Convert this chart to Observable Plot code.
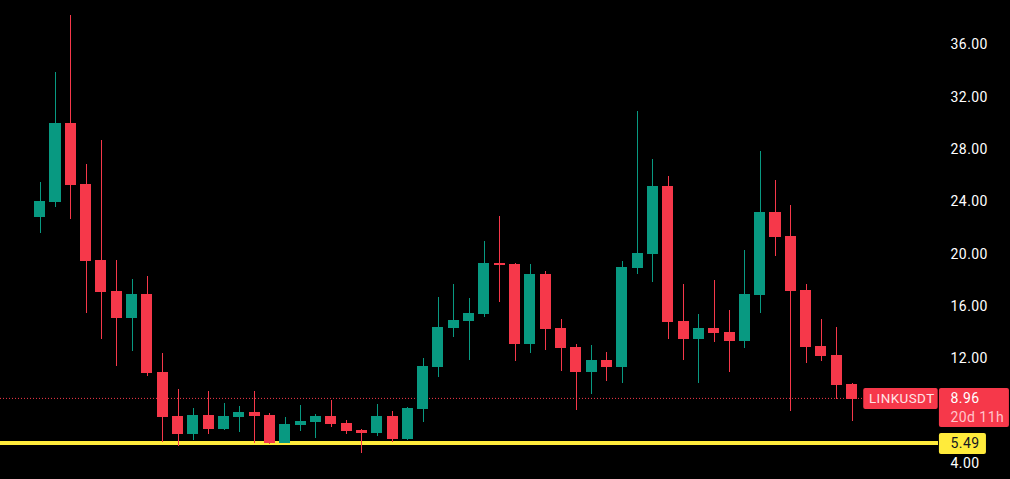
<!DOCTYPE html>
<html>
<head>
<meta charset="utf-8">
<script src="https://cdn.jsdelivr.net/npm/d3@7"></script>
<script src="https://cdn.jsdelivr.net/npm/@observablehq/plot@0.6"></script>
<style>
html,body{margin:0;padding:0;background:#000;overflow:hidden}
svg{display:block}
svg text{letter-spacing:0.45px}
</style>
</head>
<body>
<div id="chart"></div>
<script>
const high = [25.44,33.86,38.22,26.82,28.65,19.47,18.02,18.25,12.36,9.60,8.15,9.45,8.53,8.30,9.45,7.77,7.46,8.38,7.69,8.76,7.23,6.54,8.46,7.92,8.23,11.97,16.64,17.64,16.57,20.93,22.84,19.24,19.17,18.63,14.96,13.05,12.97,12.43,19.40,30.87,27.20,25.90,17.64,15.34,17.94,15.65,20.24,27.81,25.59,23.68,17.64,14.96,14.35,10.06];
const bodyTop = [23.99,29.96,29.96,25.29,19.47,17.10,16.87,16.87,10.90,7.54,7.61,7.61,7.54,7.84,7.84,7.61,6.92,7.15,7.54,7.54,7.00,6.47,7.54,7.54,8.15,11.36,14.35,14.88,15.42,19.24,19.24,19.17,18.40,18.40,14.27,12.82,11.82,11.82,18.94,20.01,25.14,25.14,14.81,14.27,14.27,13.97,16.87,23.15,23.15,21.31,17.18,12.89,12.21,9.98];
const bodyBottom = [22.76,23.91,25.21,19.40,17.02,15.03,15.03,10.83,7.46,6.16,6.16,6.54,6.54,7.46,7.54,5.47,5.47,6.85,7.08,6.92,6.39,6.24,6.24,5.78,5.78,8.07,11.29,14.27,14.81,15.34,19.09,13.05,13.05,14.19,12.74,10.90,10.90,11.29,11.29,18.86,19.93,14.73,13.43,13.43,13.89,13.28,13.28,16.80,21.23,17.10,12.82,12.13,9.91,8.84];
const low = [21.54,23.53,22.61,15.42,13.43,11.36,12.51,10.60,5.55,5.24,5.70,6.16,6.47,6.31,5.47,5.40,5.47,6.39,5.85,6.70,6.16,4.71,6.01,5.55,5.70,7.08,10.52,13.58,11.82,15.11,16.26,11.75,12.36,12.59,10.98,8.00,9.22,10.22,10.06,18.40,17.79,13.43,11.82,10.06,13.20,10.90,12.74,15.42,19.78,7.92,11.59,11.75,8.84,7.15];
const rising = [1,1,0,0,0,0,1,0,0,0,1,0,1,1,0,0,1,1,1,0,0,0,1,0,1,1,1,1,1,1,0,0,1,0,0,0,1,0,1,1,1,0,0,1,0,0,1,1,0,0,0,0,0,0];
const tickValues = [4,12,16,20,24,28,32,36];
const symbol = "LINKUSDT";
const lastPrice = 8.96;
const countdown = "20d 11h";
const supportPrice = 5.49;

const GREEN = "#089981", RED = "#f6384a", YELLOW = "#ffeb3b";
const FONT = "Roboto, sans-serif";
const candles = high.map((h,i)=>({i,high:h,top:bodyTop[i],bottom:bodyBottom[i],low:low[i],color:rising[i]?GREEN:RED}));

const chart = Plot.plot({
  width:1010, height:479,
  marginTop:0, marginBottom:0, marginLeft:0, marginRight:72,
  style:{background:"#000",color:"#fff",fontFamily:FONT},
  x:{domain:[-2.59,58.64],axis:null},
  y:{domain:[2.717,39.366]},
  marks:[
    Plot.ruleY([lastPrice],{stroke:RED,strokeWidth:1,strokeDasharray:"1,2",dy:0.5}),
    Plot.ruleY([supportPrice],{stroke:YELLOW,strokeWidth:4,shapeRendering:"crispEdges"}),
    Plot.ruleX(candles,{x:"i",y1:"low",y2:"high",stroke:"color",strokeWidth:1,shapeRendering:"crispEdges"}),
    Plot.rect(candles,{x1:d=>d.i-0.36,x2:d=>d.i+0.36,y1:"bottom",y2:"top",fill:"color",shapeRendering:"crispEdges"}),
    Plot.axisY(tickValues,{anchor:"right",label:null,tickSize:0,tickPadding:12,fontSize:14,dy:0.5,tickFormat:d=>d.toFixed(2),fill:"#fff"}),
    Plot.rect([{x1:53.76,x2:58.62,y1:8.07,y2:9.68}],{x1:"x1",x2:"x2",y1:"y1",y2:"y2",fill:RED,rx:2}),
    Plot.rect([{x1:58.70,x2:63.27,y1:6.70,y2:9.68}],{x1:"x1",x2:"x2",y1:"y1",y2:"y2",fill:RED,rx:2}),
    Plot.rect([{x1:58.70,x2:61.77,y1:4.63,y2:6.24}],{x1:"x1",x2:"x2",y1:"y1",y2:"y2",fill:YELLOW,rx:2}),
    Plot.text([symbol],{x:54.1,y:lastPrice,dy:0.5,text:d=>d,textAnchor:"start",fill:"#ffe3e6",fontSize:13.4}),
    Plot.text([lastPrice],{x:59.42,y:lastPrice,dy:0.5,text:d=>d.toFixed(2),textAnchor:"start",fill:"#fff",fontSize:14}),
    Plot.text([countdown],{x:59.42,y:7.5,dy:0.5,text:d=>d,textAnchor:"start",fill:"#ffc4ca",fontSize:14}),
    Plot.text([supportPrice],{x:59.42,y:supportPrice,dy:0.5,text:d=>d.toFixed(2),textAnchor:"start",fill:"#131722",fontSize:14})
  ]
});
document.getElementById("chart").append(chart);
</script>
</body>
</html>
